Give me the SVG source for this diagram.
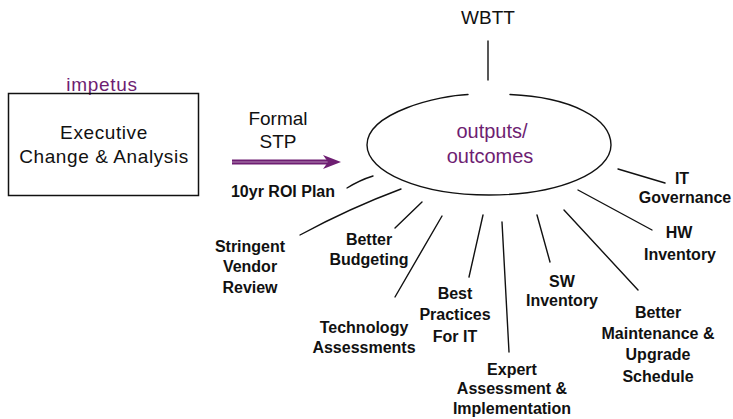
<svg xmlns="http://www.w3.org/2000/svg" width="733" height="419" viewBox="0 0 733 419">
  <style>
    text { font-family: "Liberation Sans", Arial, sans-serif; fill: #111; text-anchor: middle; }
    .big { font-size: 19px; }
    .purple { fill: #6e1e72; }
    .lbl { font-size: 16px; font-weight: bold; }
    .ln { stroke: #111; stroke-width: 1.4; fill: none; stroke-linecap: round; }
  </style>
  <rect width="733" height="419" fill="#fff"/>

  <g id="impetus-box">
    <text class="big purple" x="102" y="91" style="letter-spacing:0.7px">impetus</text>
    <rect x="8.5" y="93.5" width="190" height="102" fill="none" stroke="#111" stroke-width="1.5"/>
    <text class="big" x="104" y="139" style="letter-spacing:0.6px">Executive</text>
    <text class="big" x="104" y="163" style="letter-spacing:0.6px">Change &amp; Analysis</text>
  </g>

  <g id="stp-label">
    <text class="big" x="278" y="125">Formal</text>
    <text class="big" x="278" y="148">STP</text>
  </g>

  <g id="outcomes">
    <path d="M468,94.5 C440,95.5 367,112 367,145 C367,172 420,195 489,195 C560,195 611,172 611,145 C611,118 570,97 510,94.5" class="ln" stroke-width="1.2"/>
    <text class="purple" x="492" y="138" style="font-size:20px">outputs/</text>
    <text class="purple" x="490" y="163" style="font-size:20px">outcomes</text>
  </g>

  <g id="wbtt">
    <text class="big" x="488" y="24">WBTT</text>
  </g>

  <g id="roi-plan"><text class="lbl" x="283" y="197">10yr ROI Plan</text></g>
  <g id="vendor-review">
    <text class="lbl" x="250" y="252">Stringent</text>
    <text class="lbl" x="250" y="272">Vendor</text>
    <text class="lbl" x="250" y="293">Review</text>
  </g>
  <g id="budgeting">
    <text class="lbl" x="369" y="245">Better</text>
    <text class="lbl" x="369" y="265">Budgeting</text>
  </g>
  <g id="tech-assessments">
    <text class="lbl" x="364" y="333">Technology</text>
    <text class="lbl" x="364" y="353">Assessments</text>
  </g>
  <g id="best-practices">
    <text class="lbl" x="455" y="299">Best</text>
    <text class="lbl" x="455" y="320">Practices</text>
    <text class="lbl" x="455" y="342">For IT</text>
  </g>
  <g id="expert-assessment">
    <text class="lbl" x="512" y="375">Expert</text>
    <text class="lbl" x="512" y="394">Assessment &amp;</text>
    <text class="lbl" x="512" y="414">Implementation</text>
  </g>
  <g id="sw-inventory">
    <text class="lbl" x="562" y="287">SW</text>
    <text class="lbl" x="562" y="306">Inventory</text>
  </g>
  <g id="maintenance">
    <text class="lbl" x="658" y="318">Better</text>
    <text class="lbl" x="658" y="339">Maintenance &amp;</text>
    <text class="lbl" x="658" y="360">Upgrade</text>
    <text class="lbl" x="658" y="382">Schedule</text>
  </g>
  <g id="hw-inventory">
    <text class="lbl" x="679" y="238">HW</text>
    <text class="lbl" x="680" y="260">Inventory</text>
  </g>
  <g id="it-governance">
    <text class="lbl" x="682" y="184">IT</text>
    <text class="lbl" x="685" y="203">Governance</text>
  </g>

  <g id="connectors">
    <!-- double-stroke purple arrow into the outcomes ellipse -->
    <line x1="232" y1="162" x2="330" y2="162" stroke="#6e1e72" stroke-width="5"/>
    <line x1="232" y1="162" x2="328" y2="162" stroke="#b48ab6" stroke-width="1"/>
    <polygon points="323,155 341,162 323,169 328,162" fill="#6e1e72"/>

    <line class="ln" x1="488" y1="41" x2="488" y2="80"/>
    <path class="ln" d="M347,188 Q360,180 373,176"/>
    <path class="ln" d="M300,235 Q350,208 401,189"/>
    <line class="ln" x1="395" y1="228" x2="422" y2="202"/>
    <line class="ln" x1="395" y1="297" x2="442" y2="216"/>
    <line class="ln" x1="469" y1="277" x2="483" y2="215"/>
    <line class="ln" x1="509" y1="352" x2="502" y2="222"/>
    <line class="ln" x1="550" y1="262" x2="537" y2="215"/>
    <line class="ln" x1="638" y1="290" x2="564" y2="210"/>
    <line class="ln" x1="652" y1="230" x2="578" y2="190"/>
    <line class="ln" x1="665" y1="183" x2="618" y2="169"/>
  </g>
</svg>
